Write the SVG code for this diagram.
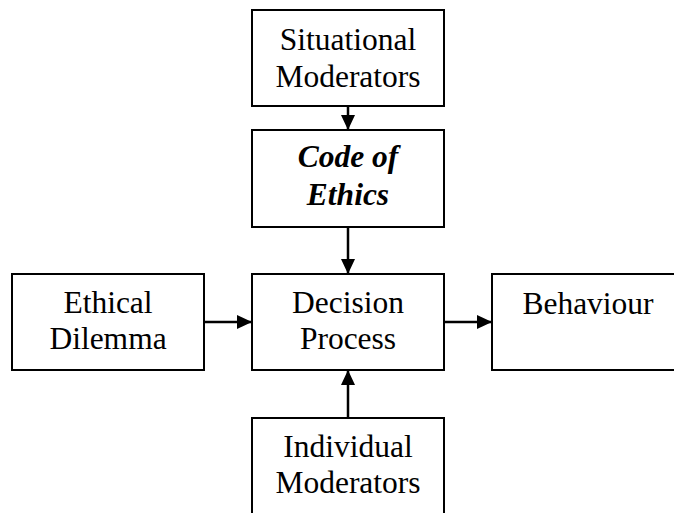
<svg xmlns="http://www.w3.org/2000/svg" width="674" height="513" viewBox="0 0 674 513">
<defs>
<marker id="ah" markerWidth="15" markerHeight="15" viewBox="0 0 15 15" refX="15" refY="7.5" orient="auto" markerUnits="userSpaceOnUse">
<path d="M0,0.5 L15,7.5 L0,14.5 Z" fill="#000"/>
</marker>
</defs>
<style>
.box{fill:#fff;stroke:#000;stroke-width:2}
text{font-family:'Liberation Serif','DejaVu Serif',serif;font-size:31.5px;text-anchor:middle;fill:#000}
.bi{font-weight:bold;font-style:italic}
.c{stroke:#000;stroke-width:2.5;fill:none;marker-end:url(#ah)}
</style>
<rect width="674" height="513" fill="#fff"/>
<g id="connectors">
<line class="c" x1="348" y1="106" x2="348" y2="130"/>
<line class="c" x1="348" y1="227" x2="348" y2="274"/>
<line class="c" x1="204" y1="322" x2="252" y2="322"/>
<line class="c" x1="444" y1="322" x2="492" y2="322"/>
<line class="c" x1="348" y1="418" x2="348" y2="370"/>
</g>
<g id="situational">
<rect class="box" x="252" y="10" width="192" height="96"/>
<text font-family="Liberation Serif, serif" x="348" y="50">Situational</text>
<text font-family="Liberation Serif, serif" x="348" y="87">Moderators</text>
</g>
<g id="code">
<rect class="box" x="252" y="130" width="192" height="97"/>
<text class="bi" font-family="Liberation Serif, serif" x="348" y="167">Code of</text>
<text class="bi" font-family="Liberation Serif, serif" x="348" y="205">Ethics</text>
</g>
<g id="ethical">
<rect class="box" x="12" y="274" width="192" height="96"/>
<text font-family="Liberation Serif, serif" x="108" y="313">Ethical</text>
<text font-family="Liberation Serif, serif" x="108" y="349">Dilemma</text>
</g>
<g id="decision">
<rect class="box" x="252" y="274" width="192" height="96"/>
<text font-family="Liberation Serif, serif" x="348" y="313">Decision</text>
<text font-family="Liberation Serif, serif" x="348" y="349">Process</text>
</g>
<g id="behaviour">
<rect class="box" x="492" y="274" width="200" height="96"/>
<text font-family="Liberation Serif, serif" x="588" y="314">Behaviour</text>
</g>
<g id="individual">
<rect class="box" x="252" y="418" width="192" height="110"/>
<text font-family="Liberation Serif, serif" x="348" y="457">Individual</text>
<text font-family="Liberation Serif, serif" x="348" y="493">Moderators</text>
</g>
</svg>
